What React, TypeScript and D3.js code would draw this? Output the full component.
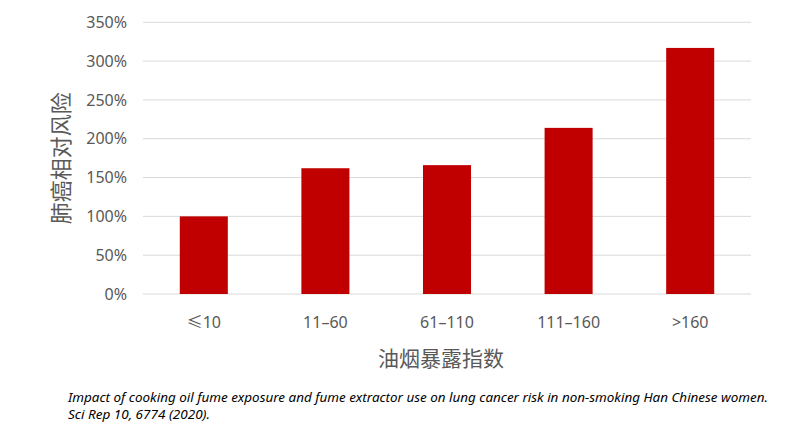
import React from "react";
import * as d3 from "d3";

const categories = ["≤10", "11–60", "61–110", "111–160", ">160"];
const values = [1.0, 1.62, 1.66, 2.14, 3.17];
const yTicks = [0, 0.5, 1, 1.5, 2, 2.5, 3, 3.5];
const yTitle = "肺癌相对风险";
const xTitle = "油烟暴露指数";
const caption = [
  "Impact of cooking oil fume exposure and fume extractor use on lung cancer risk in non-smoking Han Chinese women.",
  "Sci Rep 10, 6774 (2020).",
];
const captionWidths = [700, 142];

export default function App() {
  const W = 787, H = 432;
  const left = 143, right = 751, top = 22.3, bottom = 294;
  const x = d3.scaleBand<string>().domain(categories).range([left, right]).paddingInner(0.605).paddingOuter(0.3025);
  const y = d3.scaleLinear().domain([0, 3.5]).range([bottom, top]);
  const fmt = d3.format(".0%");
  const font = "'Segoe UI', 'Noto Sans', 'Noto Sans CJK SC', sans-serif";
  const cjk = "'Microsoft YaHei', 'Noto Sans CJK SC', sans-serif";
  return (
    <svg width={W} height={H} style={{ position: "absolute", left: 0, top: 0, background: "#fff" }}>
      {yTicks.map((t) => (
        <g key={t}>
          <line x1={left} x2={right} y1={y(t)} y2={y(t)} stroke="#d9d9d9" strokeWidth={1} />
          <text x={127} y={y(t)} dy="0.35em" textAnchor="end" fontSize={16} fill="#595959" fontFamily={font}>
            {fmt(t)}
          </text>
        </g>
      ))}
      {categories.map((c, i) => (
        <rect key={c} x={x(c)} y={y(values[i])} width={x.bandwidth()} height={y(0) - y(values[i])} fill="#c00000" />
      ))}
      {categories.map((c) => (
        <text key={c} x={(x(c) as number) + x.bandwidth() / 2} y={328} textAnchor="middle" fontSize={16} fill="#595959" fontFamily={font}>
          {c}
        </text>
      ))}
      <text transform={`translate(69,${(top + bottom) / 2}) rotate(-90)`} textAnchor="middle" fontSize={22} fill="#595959" fontFamily={cjk}>
        {yTitle}
      </text>
      <text x={441} y={366} textAnchor="middle" fontSize={21} fill="#595959" fontFamily={cjk}>
        {xTitle}
      </text>
      {caption.map((c, i) => (
        <text key={i} x={68} y={402 + i * 17.2} fontSize={12.5} fontStyle="italic" fill="#000" fontFamily={font}
          textLength={captionWidths[i]} lengthAdjust="spacingAndGlyphs">
          {c}
        </text>
      ))}
    </svg>
  );
}
